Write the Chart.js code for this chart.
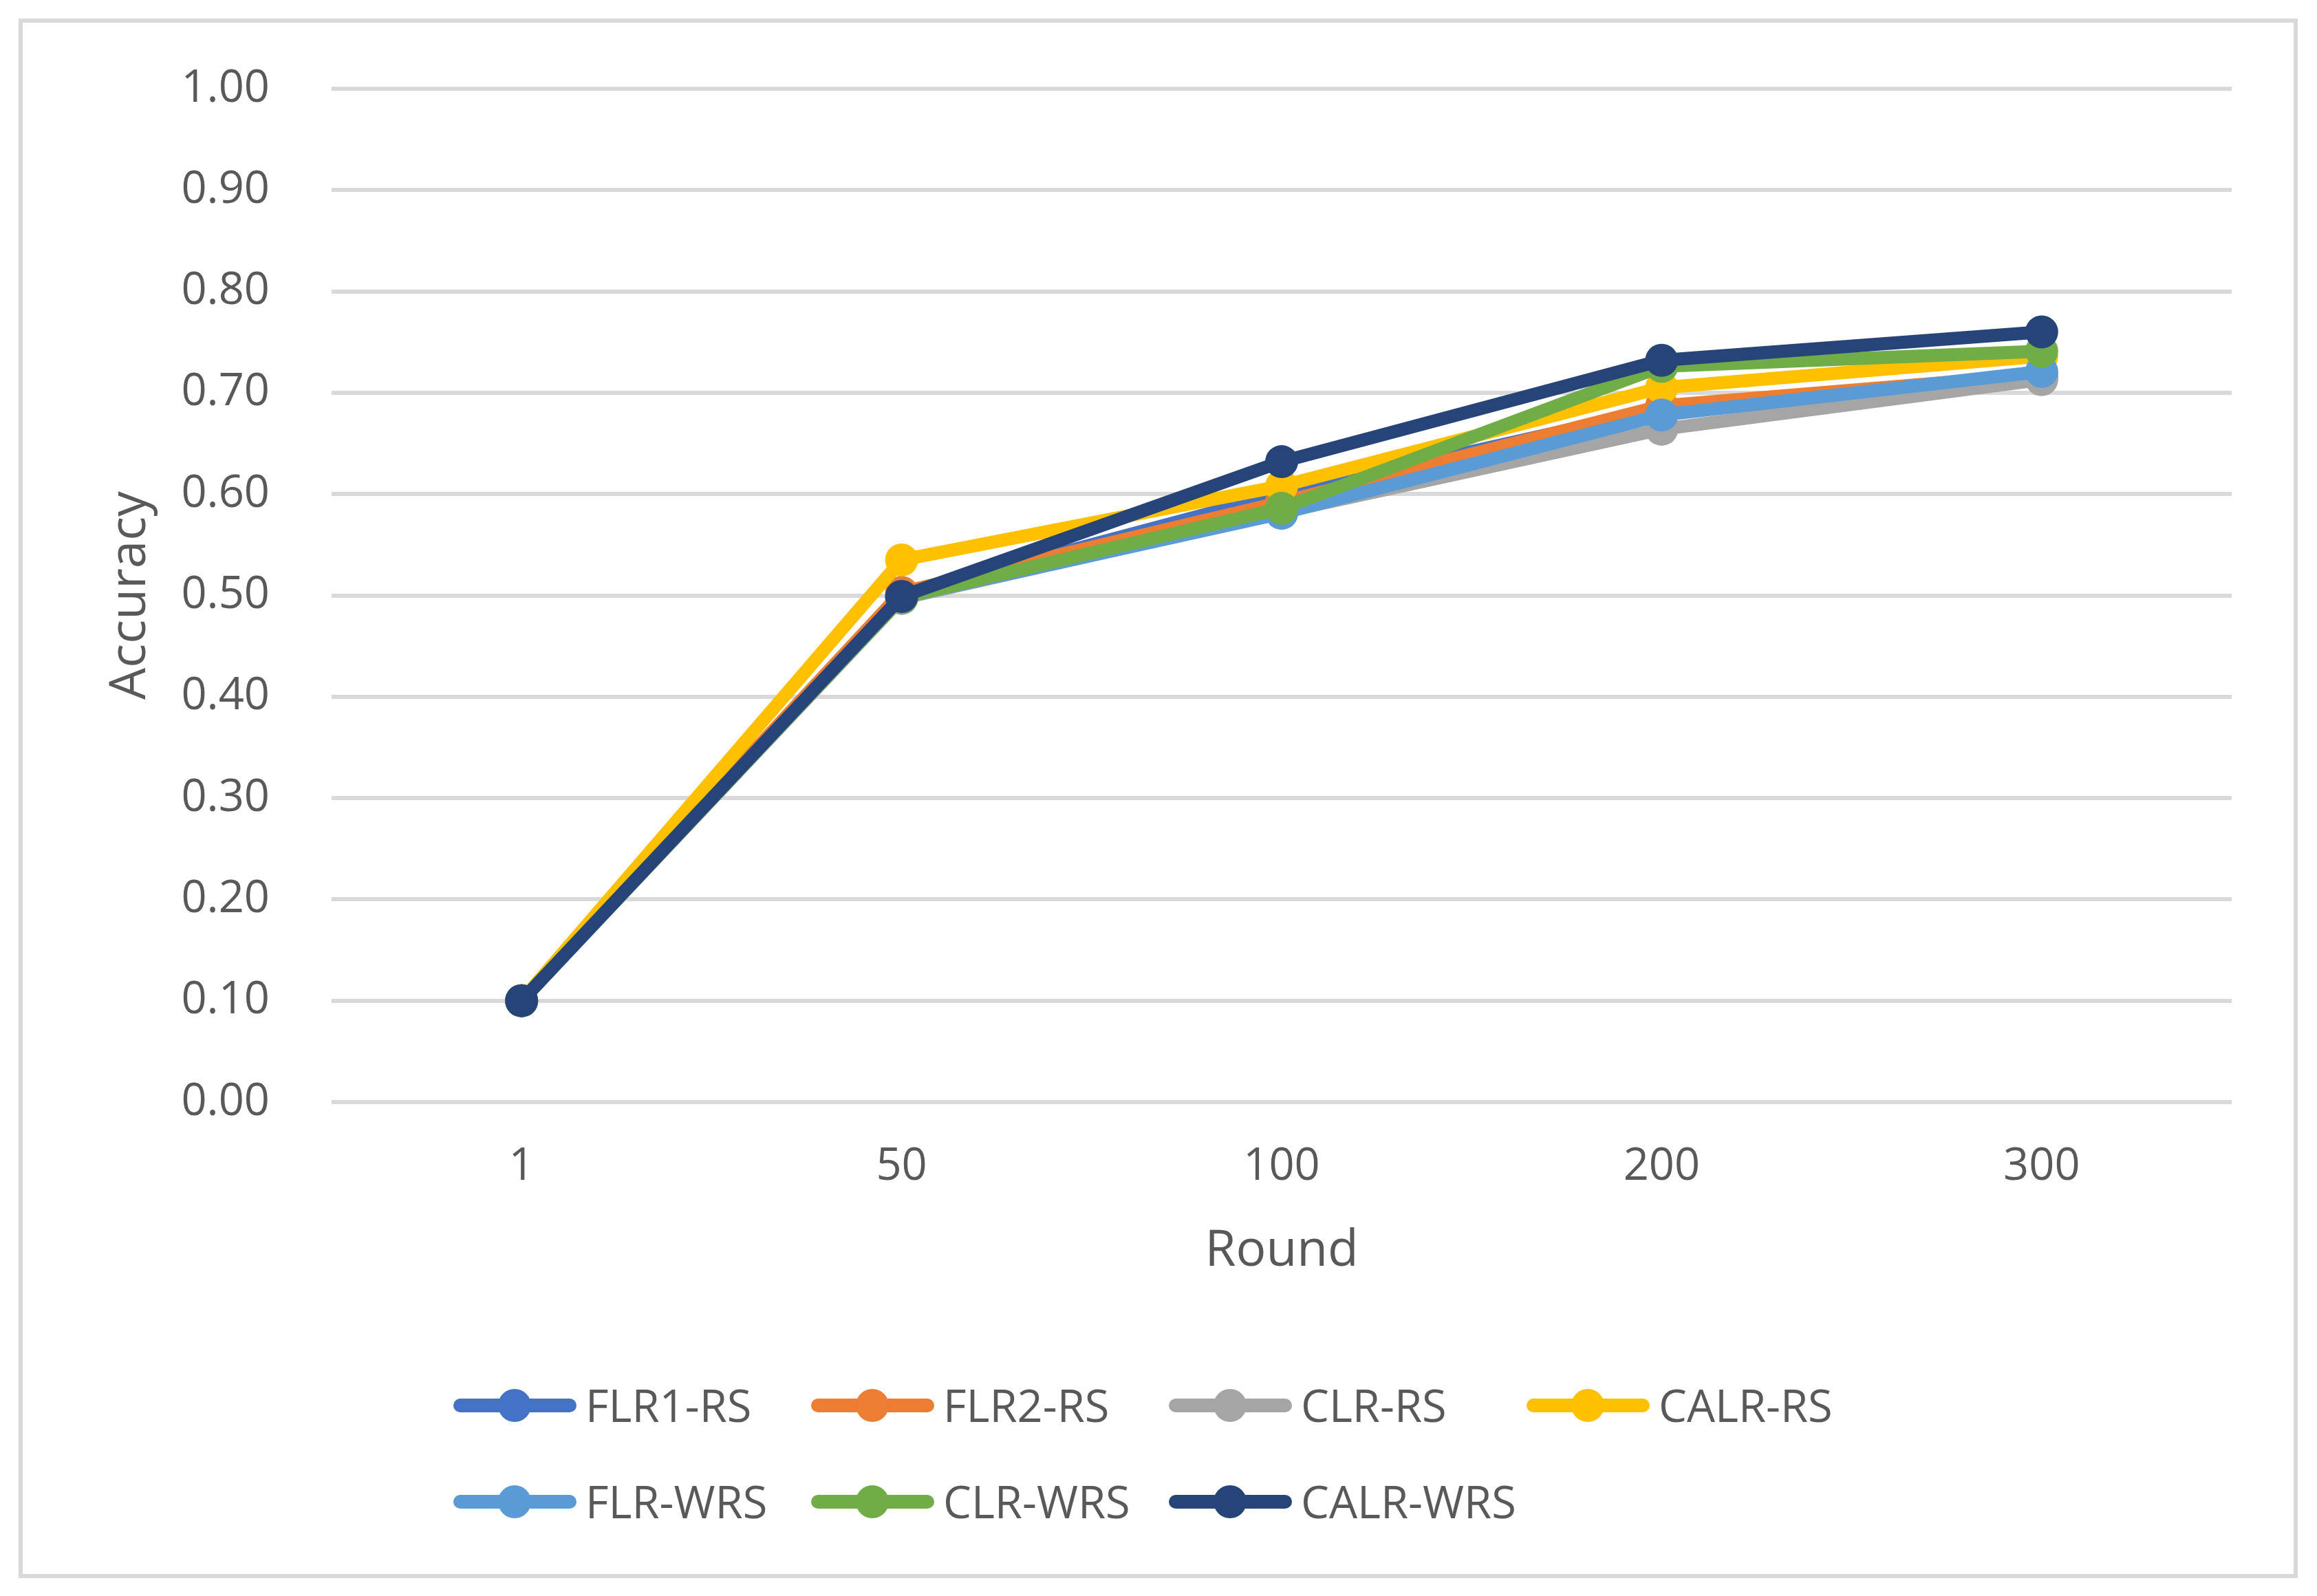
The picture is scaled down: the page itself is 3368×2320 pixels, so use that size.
<!DOCTYPE html>
<html>
<head>
<meta charset="utf-8">
<script src="https://cdn.jsdelivr.net/npm/chart.js@4.4.0/dist/chart.umd.min.js"></script>
<style>
  html, body { margin: 0; padding: 0; background: #fff; overflow: hidden; }
  canvas { display: block; }
</style>
</head>
<body>
<canvas id="lineChart" width="3368" height="2320"></canvas>
<script>
// Data
const rounds = ['1', '50', '100', '200', '300'];
const seriesNames = ['FLR1-RS', 'FLR2-RS', 'CLR-RS', 'CALR-RS', 'FLR-WRS', 'CLR-WRS', 'CALR-WRS'];
const seriesColors = ['#4472C4', '#ED7D31', '#A5A5A5', '#FFC000', '#5B9BD5', '#70AD47', '#264478'];
const flr1Rs  = [0.10, 0.500, 0.600, 0.684, 0.715];
const flr2Rs  = [0.10, 0.503, 0.592, 0.687, 0.718];
const clrRs   = [0.10, 0.497, 0.582, 0.664, 0.713];
const calrRs  = [0.10, 0.535, 0.608, 0.705, 0.736];
const flrWrs  = [0.10, 0.498, 0.581, 0.678, 0.721];
const clrWrs  = [0.10, 0.498, 0.586, 0.726, 0.741];
const calrWrs = [0.10, 0.499, 0.632, 0.732, 0.760];
const yTicks = [0, 0.1, 0.2, 0.3, 0.4, 0.5, 0.6, 0.7, 0.8, 0.9, 1.0];

const seriesValues = [flr1Rs, flr2Rs, clrRs, calrRs, flrWrs, clrWrs, calrWrs];
const FONT = '"Open Sans", "Noto Sans", sans-serif';
const TEXT = '#595959';
const GRID = '#D9D9D9';

// outer frame like the Excel chart area
const framePlugin = {
    id: 'frame',
    beforeDraw(chart) {
        const c = chart.ctx;
        c.save();
        c.fillStyle = '#fff';
        c.fillRect(0, 0, chart.width, chart.height);
        c.strokeStyle = GRID;
        c.lineWidth = 6;
        c.strokeRect(30, 30, 3307, 2261);
        c.restore();
    }
};

// legend with line + marker, two rows
const legendPlugin = {
    id: 'lineLegend',
    afterDraw(chart) {
        const c = chart.ctx;
        const colW = 520, rowH = 140, x0 = 659, y0 = 2043;
        c.save();
        chart.data.datasets.forEach((ds, i) => {
            const x = x0 + (i % 4) * colW;
            const y = y0 + Math.floor(i / 4) * rowH;
            c.strokeStyle = ds.borderColor;
            c.lineWidth = 20;
            c.lineCap = 'round';
            c.beginPath();
            c.moveTo(x + 10, y);
            c.lineTo(x + 169, y);
            c.stroke();
            c.fillStyle = ds.borderColor;
            c.beginPath();
            c.arc(x + 89, y, 24, 0, Math.PI * 2);
            c.fill();
            c.fillStyle = TEXT;
            c.font = '65px ' + FONT;
            c.textBaseline = 'alphabetic';
            c.fillText(ds.label, x + 192, y + 24);
        });
        c.restore();
    }
};

const ctx = document.getElementById('lineChart').getContext('2d');
new Chart(ctx, {
    type: 'line',
    data: {
        labels: rounds,
        datasets: seriesNames.map((name, i) => ({
            label: name,
            data: seriesValues[i],
            borderColor: seriesColors[i],
            backgroundColor: seriesColors[i],
            pointBackgroundColor: seriesColors[i],
            pointBorderWidth: 0,
            pointRadius: 24,
            borderWidth: 19,
            borderJoinStyle: 'round',
            borderCapStyle: 'round',
            tension: 0,
            fill: false,
            order: seriesNames.length - 1 - i
        }))
    },
    options: {
        responsive: false,
        devicePixelRatio: 1,
        animation: false,
        layout: { padding: { left: 0, top: 119, right: 124, bottom: 418 } },
        plugins: {
            legend: { display: false },
            tooltip: { enabled: false }
        },
        scales: {
            x: {
                offset: true,
                grid: { display: false, drawTicks: false },
                border: { display: false },
                ticks: { color: TEXT, font: { family: FONT, size: 65 }, padding: 55 },
                title: {
                    display: true, text: 'Round', color: TEXT,
                    font: { family: FONT, size: 73 }, padding: { top: 0, bottom: 39 }
                },
                afterFit(scale) { scale.height = 300; }
            },
            y: {
                min: 0,
                max: 1,
                afterBuildTicks(scale) { scale.ticks = yTicks.map(v => ({ value: v })); },
                grid: { color: GRID, lineWidth: 6, drawTicks: false },
                border: { display: false },
                ticks: {
                    color: TEXT, font: { family: FONT, size: 65 }, padding: 90,
                    callback: v => Number(v).toFixed(2)
                },
                title: {
                    display: true, text: 'Accuracy', color: TEXT,
                    font: { family: FONT, size: 73 }, padding: { top: 146, bottom: 0 }
                },
                afterFit(scale) { scale.width = 482; }
            }
        }
    },
    plugins: [framePlugin, legendPlugin]
});
</script>
</body>
</html>
